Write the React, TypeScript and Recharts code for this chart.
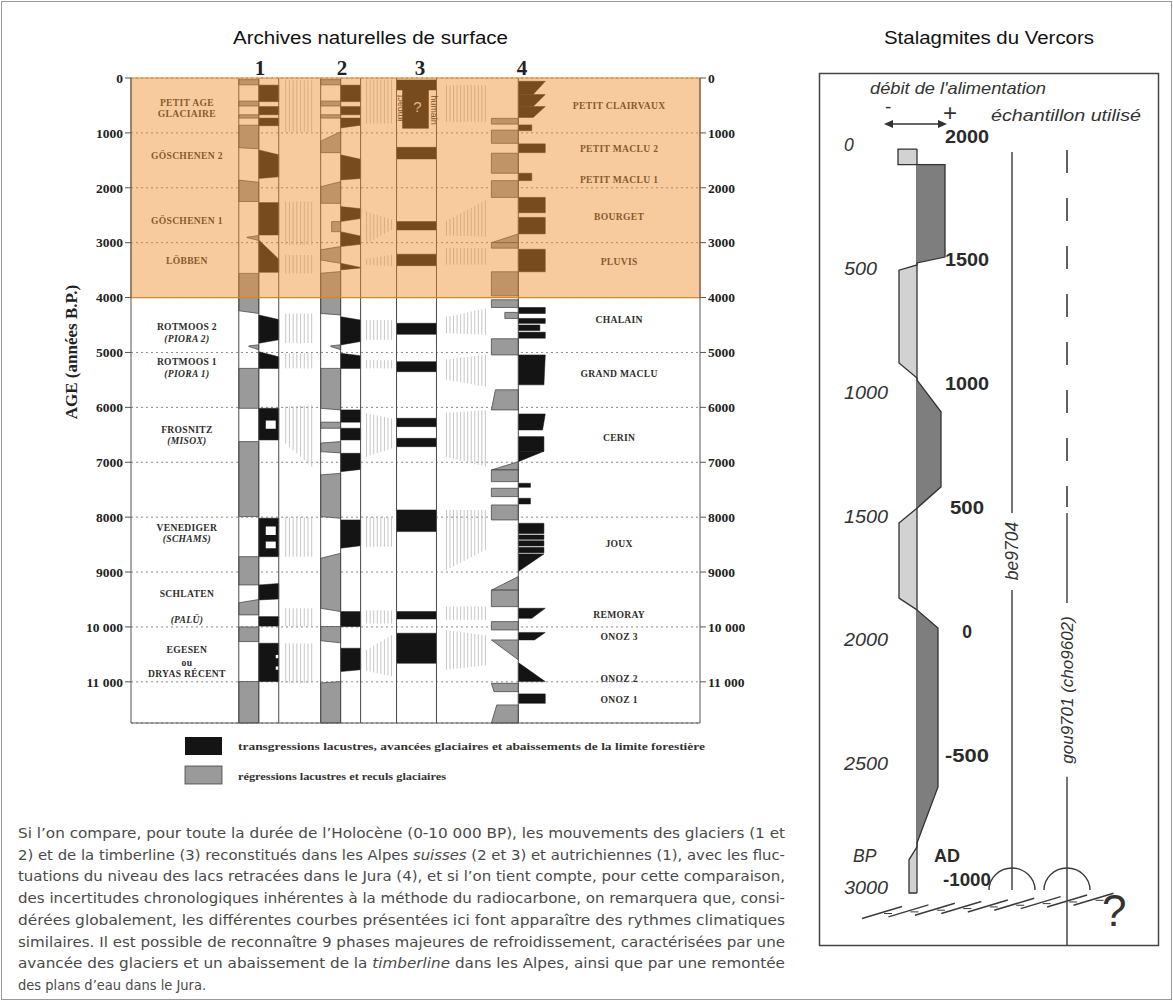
import React from 'react';
import { ComposedChart, XAxis, YAxis, CartesianGrid, ReferenceArea, ReferenceLine, ReferenceDot, Area } from 'recharts';

// ---------------- DATA : left panel (ages in years B.P.) ----------------
const AGE_MAX = 11750;
const AGE_TICKS = [0, 1000, 2000, 3000, 4000, 5000, 6000, 7000, 8000, 9000, 10000, 11000];
const HIGHLIGHT_END = 4000;

// column 1 & 2 blocks: [kind, topLeft, topRight, bottomLeft, bottomRight, f0?, f1?]
// kind: g = regression (grey, left half), b = transgression (black, right half), w = white notch
type CB = [string, number, number, number, number, number?, number?];
const col1Blocks: CB[] = [
  ['g', 30, 30, 125, 125], ['b', 130, 130, 430, 430], ['g', 420, 420, 510, 510],
  ['b', 520, 520, 670, 670], ['g', 670, 670, 730, 730], ['b', 730, 730, 870, 870],
  ['g', 860, 860, 1270, 1290], ['b', 1310, 1400, 1830, 1800], ['g', 1860, 1900, 2250, 2250],
  ['b', 2270, 2270, 2860, 2860], ['g', 2900, 2870, 2905, 2960, 0.4, 1], ['b', 2950, 3300, 3540, 3540],
  ['g', 3560, 3560, 4240, 4290], ['b', 4317, 4400, 4833, 4770], ['g', 4880, 4860, 4890, 4950, 0.5, 1],
  ['b', 4985, 5080, 5290, 5290], ['g', 5290, 5290, 6017, 6017], ['b', 6017, 6017, 6594, 6594],
  ['w', 6240, 6240, 6390, 6390, 0.35, 0.85], ['g', 6624, 6624, 7990, 7990], ['b', 8020, 8020, 8720, 8720],
  ['w', 8170, 8170, 8325, 8325, 0.35, 0.85], ['w', 8445, 8445, 8567, 8567, 0.35, 0.85],
  ['g', 8720, 8720, 9235, 9235], ['b', 9235, 9210, 9508, 9490], ['g', 9560, 9500, 9781, 9781],
  ['b', 9812, 9812, 9985, 9985], ['g', 10000, 10000, 10267, 10267], ['b', 10297, 10297, 10995, 10995],
  ['w', 10510, 10510, 10570, 10570, 0.85, 1], ['w', 10720, 10720, 10780, 10780, 0.85, 1],
  ['g', 10995, 10995, 11750, 11750],
];
const col2Blocks: CB[] = [
  ['g', 30, 30, 125, 125], ['b', 130, 130, 430, 430], ['g', 420, 420, 510, 510],
  ['b', 520, 520, 670, 670], ['g', 670, 670, 730, 730], ['b', 730, 730, 910, 860],
  ['g', 1150, 977, 1360, 1360], ['b', 1400, 1480, 1857, 1830], ['g', 1980, 1888, 2283, 2283],
  ['b', 2343, 2380, 2616, 2560], ['g', 2616, 2616, 2800, 2800, 0.55, 1], ['b', 2800, 2880, 3071, 3030],
  ['g', 3130, 3071, 3315, 3376], ['b', 3375, 3450, 3496, 3460], ['g', 3557, 3527, 4290, 4317],
  ['b', 4348, 4410, 4863, 4800], ['g', 4880, 4860, 4890, 4950, 0.5, 1], ['b', 5015, 5060, 5290, 5290],
  ['g', 5290, 5290, 6017, 6047], ['b', 6047, 6047, 6270, 6270], ['g', 6270, 6270, 6381, 6381],
  ['b', 6381, 6381, 6594, 6594], ['g', 6650, 6624, 6806, 6830], ['b', 6837, 6837, 7171, 7130],
  ['g', 7230, 7201, 7990, 8021], ['b', 8050, 8050, 8567, 8520], ['g', 8750, 8658, 9660, 9720],
  ['b', 9720, 9720, 9994, 9994], ['g', 9994, 9994, 10250, 10290], ['b', 10388, 10388, 10813, 10780],
  ['g', 11020, 10995, 11750, 11750],
];
// column 3 (timberline): [top, bottom, f0, f1]
const col3Blocks: number[][] = [
  [36, 218, 0, 1], [218, 917, 0.15, 0.8], [1263, 1475, 0, 1], [2616, 2768, 0, 1], [3210, 3418, 0, 1],
  [4469, 4670, 0, 1], [5167, 5350, 0, 1], [6199, 6351, 0, 1], [6564, 6716, 0, 1], [7869, 8263, 0, 1],
  [9720, 9855, 0, 1], [10115, 10662, 0, 1],
];
// column 4 (Jura lakes): [kind, top, bottom, relative width top, relative width bottom]
type C4 = [string, number, number, number, number];
const col4Blocks: C4[] = [
  ['b', 60, 300, 1, 0.55], ['b', 300, 520, 1, 0.55], ['b', 520, 720, 1, 0.55],
  ['g', 735, 840, 1, 1], ['b', 855, 960, 0.5, 0.5], ['g', 950, 1190, 1, 1], ['b', 1200, 1360, 1, 1],
  ['g', 1370, 1735, 1, 1], ['b', 1735, 1870, 0.5, 0.5], ['g', 1870, 2175, 1, 1], ['b', 2175, 2455, 1, 1],
  ['b', 2540, 2840, 1, 1], ['g', 2840, 3000, 0, 1], ['g', 3000, 3100, 1, 1], ['b', 3120, 3530, 1, 1],
  ['g', 3530, 3970, 1, 1], ['g', 4040, 4180, 1, 1], ['b', 4180, 4290, 1, 1], ['g', 4270, 4380, 0.5, 0.5],
  ['b', 4380, 4470, 1, 1], ['b', 4500, 4600, 0.8, 0.8], ['b', 4630, 4740, 1, 1], ['g', 4750, 5045, 1, 1],
  ['b', 5045, 5590, 1, 0.95], ['g', 5680, 6047, 0.85, 1], ['b', 6120, 6412, 1, 0.9],
  ['b', 6533, 6800, 0.95, 0.95], ['b', 6800, 6989, 0.95, 0], ['g', 6989, 7140, 0, 1], ['g', 7140, 7353, 1, 1],
  ['b', 7383, 7456, 0.45, 0.45], ['g', 7474, 7626, 1, 1], ['b', 7656, 7760, 0.45, 0.45], ['g', 7778, 8051, 1, 1],
  ['b', 8112, 8300, 0.95, 0.95], ['b', 8325, 8405, 0.95, 0.95], ['b', 8430, 8525, 0.95, 0.95],
  ['b', 8550, 8650, 0.95, 0.95], ['b', 8670, 8990, 0.95, 0], ['g', 9083, 9330, 0, 1], ['g', 9330, 9630, 1, 1],
  ['b', 9660, 9843, 1, 0.5], ['g', 9903, 10055, 1, 1], ['b', 10100, 10237, 1, 0.6], ['g', 10237, 10600, 1, 0],
  ['b', 10650, 10996, 0, 1], ['g', 11027, 11179, 1, 0.9], ['b', 11220, 11391, 1, 1], ['g', 11421, 11750, 0.8, 1],
];
// uncertainty hatching between columns: [zone, topLeft, topRight, bottomLeft, bottomRight]
const hatches: number[][] = [
  [1, 40, 40, 980, 980], [1, 2250, 2250, 3040, 3040], [1, 3225, 3225, 3560, 3560], [1, 4290, 4290, 4830, 4830],
  [1, 5015, 5015, 5290, 5290], [1, 5990, 5960, 6660, 7080], [1, 8000, 8000, 8720, 8720], [1, 9660, 9660, 9990, 9990],
  [1, 10300, 10300, 11020, 11020],
  [2, 30, 30, 830, 830], [2, 2430, 2580, 3010, 2770], [2, 3300, 3220, 3400, 3430], [2, 4410, 4410, 4770, 4770],
  [2, 5140, 5140, 5290, 5290], [2, 6110, 6200, 6900, 6750], [2, 8000, 8000, 8540, 8540], [2, 9700, 9700, 9940, 9940],
  [2, 10420, 10150, 10800, 10900],
  [3, 130, 130, 800, 800], [3, 2600, 2230, 2870, 2890], [3, 3100, 3100, 3400, 3400], [3, 4350, 4200, 4650, 4680],
  [3, 5130, 5040, 5500, 5620], [3, 6100, 6050, 6900, 7080], [3, 7870, 7870, 8960, 8600], [3, 9630, 9630, 9870, 9870],
  [3, 10060, 10150, 10780, 10700],
];
const glacierPhases: [string, number, boolean][] = [
  ['PETIT AGE', 443, false], ['GLACIAIRE', 643, false], ['GÖSCHENEN  2', 1415, false], ['GÖSCHENEN  1', 2587, false],
  ['LÖBBEN', 3327, false], ['ROTMOOS  2', 4530, false], ['(PIORA  2)', 4742, true], ['ROTMOOS  1', 5167, false],
  ['(PIORA  1)', 5379, true], ['FROSNITZ', 6412, false], ['(MISOX)', 6606, true], ['VENEDIGER', 8185, false],
  ['(SCHAMS)', 8385, true], ['SCHLATEN', 9399, false], ['(PALÜ)', 9861, true], ['EGESEN', 10419, false],
  ['ou', 10650, false], ['DRYAS RÉCENT', 10844, false],
];
const lakePhases: [string, number][] = [
  ['PETIT  CLAIRVAUX', 510], ['PETIT  MACLU  2', 1293], ['PETIT  MACLU  1', 1846], ['BOURGET', 2526],
  ['PLUVIS', 3351], ['CHALAIN', 4400], ['GRAND  MACLU', 5379], ['CERIN', 6551], ['JOUX', 8488],
  ['REMORAY', 9781], ['ONOZ 3', 10176], ['ONOZ 2', 10935], ['ONOZ 1', 11317],
];
const columnNames = ['1', '2', '3', '4'];

// ---------------- DATA : right panel (stalagmites) ----------------
const BP_TICKS = [0, 500, 1000, 1500, 2000, 2500, 3000];
const AD_TICKS = [2000, 1500, 1000, 500, 0, -500, -1000];
const rateBP = [16, 16, 79, 79, 79, 452, 476, 484, 505, 880, 941, 949, 1077, 1380, 1466, 1526, 1829, 1877, 1950, 2592, 2818, 2834, 2886, 3020, 3020];
const rateVal = [0, -19, -19, 0, 28, 28, 0, 0, -18, -18, 0, 0, 24, 24, 0, -18, -18, 0, 21, 21, 0, 0, -8, -8, 0];
const samples: { name: string; solid: number[][]; dashed: number[][]; base: number }[] = [
  { name: 'be9704', solid: [[28, 1486], [1797, 3008]], dashed: [], base: 3008 },
  { name: 'gou9701 (cho9602)', solid: [[1486, 1849], [2551, 3230]], dashed: [[20, 1461]], base: 3008 },
];

// ---------------- layout constants ----------------
const serif = "'Liberation Serif', 'Times New Roman', serif";
const sans = "'Liberation Sans', Arial, sans-serif";
const X_MAX = 570;
const COL1 = { l: 108, m: 128, r: 148 };
const COL2 = { l: 190, m: 210, r: 230 };
const COL3 = { l: 266, r: 306 };
const COL4 = { c: 388, w: 27 };
const ZONES: Record<number, [number, number]> = { 1: [155, 181], 2: [236, 261], 3: [316, 355] };
const COL_LINES = [COL1.l, COL1.m, COL1.r, COL2.l, COL2.m, COL2.r, COL3.l, COL3.r, COL4.c];
const SAMPLE_X = [95, 150];

type Pt = [number, number];

function polyArea(key: string, pts: Pt[], draw: (P: Pt[]) => React.ReactNode) {
  const xs = pts.map(p => p[0]);
  const ys = pts.map(p => p[1]);
  let x1 = Math.min(...xs), x2 = Math.max(...xs), y1 = Math.min(...ys), y2 = Math.max(...ys);
  if (x2 - x1 < 1e-6) { x1 -= 0.5; x2 += 0.5; }
  if (y2 - y1 < 1e-6) { y1 -= 1; y2 += 1; }
  const shape = (p: any) => {
    const { x, y, width, height } = p;
    if (![x, y, width, height].every((v: any) => Number.isFinite(v))) return <g />;
    const P = pts.map(([dx, dy]) => [x + ((dx - x1) / (x2 - x1)) * width, y + ((dy - y1) / (y2 - y1)) * height] as Pt);
    return <g>{draw(P)}</g>;
  };
  return <ReferenceArea key={key} x1={x1} x2={x2} y1={y1} y2={y2} ifOverflow="visible" shape={shape} />;
}

const fillDraw = (fill: string, stroke: string, sw: number) => (P: Pt[]) => (
  <polygon points={P.map(p => p.join(',')).join(' ')} fill={fill} stroke={stroke} strokeWidth={sw} strokeLinejoin="round" />
);

const hatchDraw = (P: Pt[]) => {
  const [tl, tr, br, bl] = P;
  const n = Math.max(2, Math.round((tr[0] - tl[0]) / 3.6));
  const out = [];
  for (let i = 0; i <= n; i++) {
    const t = i / n;
    const x = tl[0] + (tr[0] - tl[0]) * t;
    const ya = tl[1] + (tr[1] - tl[1]) * t;
    const yb = bl[1] + (br[1] - bl[1]) * t;
    out.push(<line key={i} x1={x} x2={x} y1={ya} y2={yb} stroke="#b8b8b8" strokeWidth={0.8} />);
  }
  return <>{out}</>;
};

const textDraw = (text: string, style: React.CSSProperties, rotate = 0, anchor = 'middle', len?: number) => (P: Pt[]) => {
  const cx = P.reduce((s, p) => s + p[0], 0) / P.length;
  const cy = P.reduce((s, p) => s + p[1], 0) / P.length;
  return (
    <text x={cx} y={cy} textAnchor={anchor as any} dominantBaseline="central" style={style}
      textLength={len} lengthAdjust={len ? 'spacingAndGlyphs' : undefined}
      transform={rotate ? `rotate(${rotate} ${cx} ${cy})` : undefined}>{text}</text>
  );
};

const labelAt = (key: string, x: number, y: number, text: string, style: React.CSSProperties, rotate = 0, anchor = 'middle', len?: number) =>
  polyArea(key, [[x - 0.5, y - 1], [x + 0.5, y - 1], [x + 0.5, y + 1], [x - 0.5, y + 1]], textDraw(text, style, rotate, anchor, len));

function halfColBlock(prefix: string, col: { l: number; m: number; r: number }, b: CB, i: number) {
  const [kind, tl, tr, bl, br, f0 = 0, f1 = 1] = b;
  const [a, c] = kind === 'g' ? [col.l, col.m] : [col.m, col.r];
  const xl = a + (c - a) * f0;
  const xr = a + (c - a) * f1;
  const pts: Pt[] = [[xl, tl], [xr, tr], [xr, br], [xl, bl]];
  const draw = kind === 'g' ? fillDraw('#9a9a9a', '#3c3c3c', 0.7) : kind === 'b' ? fillDraw('#141414', '#141414', 0.5) : fillDraw('#ffffff', 'none', 0);
  return polyArea(`${prefix}-${i}`, pts, draw);
}

const ageFmt = (v: number) => (v >= 10000 ? `${Math.floor(v / 1000)} 000` : String(v));
const phaseStyle: React.CSSProperties = { fontFamily: serif, fontWeight: 700, fontSize: 9.6, fill: '#2e2e2e', letterSpacing: 0.3 };

function LeftChart() {
  const data = AGE_TICKS.map(a => ({ age: a, x: 0 }));
  const els: React.ReactNode[] = [];
  hatches.forEach((h, i) => {
    const [z, tl, tr, bl, br] = h;
    const [a, c] = ZONES[z];
    els.push(polyArea(`h-${i}`, [[a, tl], [c, tr], [c, br], [a, bl]], hatchDraw));
  });
  col1Blocks.forEach((b, i) => els.push(halfColBlock('c1', COL1, b, i)));
  col2Blocks.forEach((b, i) => els.push(halfColBlock('c2', COL2, b, i)));
  col3Blocks.forEach((b, i) => {
    const [top, bot, f0, f1] = b;
    const xl = COL3.l + (COL3.r - COL3.l) * f0;
    const xr = COL3.l + (COL3.r - COL3.l) * f1;
    els.push(polyArea(`c3-${i}`, [[xl, top], [xr, top], [xr, bot], [xl, bot]], fillDraw('#141414', '#141414', 0.5)));
  });
  col4Blocks.forEach((b, i) => {
    const [kind, top, bot, wT, wB] = b;
    const s = kind === 'g' ? -1 : 1;
    const pts: Pt[] = [[COL4.c, top], [COL4.c + s * wT * COL4.w, top], [COL4.c + s * wB * COL4.w, bot], [COL4.c, bot]];
    els.push(polyArea(`c4-${i}`, pts, kind === 'g' ? fillDraw('#9a9a9a', '#3c3c3c', 0.7) : fillDraw('#141414', '#141414', 0.5)));
  });
  COL_LINES.forEach((x, i) => {
    els.push(polyArea(`cl-${i}`, [[x, 0], [x, AGE_MAX]], (P) => (
      <line x1={P[0][0]} x2={P[1][0]} y1={P[0][1]} y2={P[1][1]} stroke="#4a4a4a" strokeWidth={1} />
    )));
  });
  glacierPhases.forEach(([t, age, it], i) => {
    els.push(labelAt(`gp-${i}`, 56, age, t, { ...phaseStyle, fontStyle: it ? 'italic' : 'normal' }));
  });
  lakePhases.forEach(([t, age], i) => {
    els.push(labelAt(`lp-${i}`, 489, age, t, phaseStyle));
  });
  els.push(labelAt('impact', 269, 546, 'impact', { fontFamily: sans, fontSize: 9, fill: '#222' }, -90));
  els.push(labelAt('humain', 304, 583, 'humain', { fontFamily: sans, fontSize: 9, fill: '#222' }, 90));
  els.push(labelAt('q3', 287, 528, '?', { fontFamily: sans, fontSize: 15, fill: '#d6d6d6' }));
  els.push(polyArea('highlight', [[0, 0], [X_MAX, 0], [X_MAX, HIGHLIGHT_END], [0, HIGHLIGHT_END]], (P) => (
    <polygon points={P.map(p => p.join(',')).join(' ')} fill="#EF8D2B" fillOpacity={0.46} stroke="#DB8530" strokeWidth={1.2} />
  )));

  const tickStyle = { fontFamily: serif, fontWeight: 700, fontSize: 13.5, fill: '#222' };
  return (
    <ComposedChart width={780} height={740} data={data} margin={{ top: 78, right: 20, bottom: 15, left: 71 }}>
      <CartesianGrid vertical={false} stroke="#8a8a8a" strokeDasharray="2 3" />
      <XAxis type="number" dataKey="x" domain={[0, X_MAX]} allowDataOverflow tick={false} tickLine={false} axisLine={{ stroke: '#555' }} height={2} />
      <YAxis type="number" dataKey="age" domain={[0, AGE_MAX]} allowDataOverflow reversed ticks={AGE_TICKS} interval={0}
        width={60} tick={tickStyle} tickFormatter={ageFmt} tickSize={6} axisLine={{ stroke: '#555' }} tickLine={{ stroke: '#555' }} />
      <YAxis yAxisId="r" orientation="right" type="number" domain={[0, AGE_MAX]} allowDataOverflow reversed ticks={AGE_TICKS} interval={0}
        width={60} tick={tickStyle} tickFormatter={ageFmt} tickSize={6} axisLine={{ stroke: '#555' }} tickLine={{ stroke: '#555' }} />
      {els}
    </ComposedChart>
  );
}

function RightChart() {
  const rows = rateBP.map((bp, i) => ({ bp, dark: Math.max(rateVal[i], 0), light: Math.min(rateVal[i], 0) }));
  const els: React.ReactNode[] = [];
  BP_TICKS.forEach((bp, i) => els.push(labelAt(`bp-${i}`, -73, bp, String(bp),
    { fontFamily: sans, fontStyle: 'italic', fontSize: 17.5, fill: '#333' }, 0, 'start', bp === 0 ? undefined : bp < 1000 ? 33 : 44)));
  AD_TICKS.forEach((ad, i) => els.push(labelAt(`ad-${i}`, 50, 1950 - ad + 16, String(ad),
    { fontFamily: sans, fontWeight: 700, fontSize: 17.5, fill: '#2a2a2a' }, 0, 'middle',
    String(ad).length >= 5 ? 48 : String(ad).length === 4 ? 44 : String(ad).length === 3 ? 34 : undefined)));
  samples.forEach((s, si) => {
    const x = SAMPLE_X[si];
    s.solid.forEach((seg, j) => els.push(
      <ReferenceLine key={`s${si}-${j}`} segment={[{ x, y: seg[0] }, { x, y: seg[1] }]} stroke="#3a3a3a" strokeWidth={1.4} ifOverflow="visible" />));
    s.dashed.forEach((seg, j) => els.push(
      <ReferenceLine key={`d${si}-${j}`} segment={[{ x, y: seg[0] }, { x, y: seg[1] }]} stroke="#3a3a3a" strokeWidth={1.6} strokeDasharray="23 25" ifOverflow="visible" />));
    els.push(<ReferenceDot key={`arc${si}`} x={x} y={s.base} r={23} ifOverflow="visible" shape={(p: any) => (
      <path d={`M ${p.cx - 23} ${p.cy} A 23 22 0 0 1 ${p.cx + 23} ${p.cy}`} fill="none" stroke="#3a3a3a" strokeWidth={1.4} />
    )} />);
  });
  els.push(polyArea('ground', [[-55, 3115], [183, 3055], [183, 3055], [-55, 3115]], (P) => {
    const xs = P.map(p => p[0]);
    const ys = P.map(p => p[1]);
    const left = Math.min(...xs), right = Math.max(...xs);
    const yl = Math.max(...ys), yr = Math.min(...ys);
    const out = [];
    const n = 9;
    for (let i = 0; i < n; i++) {
      const t = i / n;
      const x0 = left + (right - left) * t;
      const y0 = yl + (yr - yl) * t;
      out.push(<line key={i} x1={x0} y1={y0 + 2} x2={x0 + 40} y2={y0 - 10} stroke="#3a3a3a" strokeWidth={1.5} />);
      out.push(<line key={`k${i}`} x1={x0 + 22} y1={y0 - 3} x2={x0 + 30} y2={y0 - 3} stroke="#3a3a3a" strokeWidth={1} />);
    }
    return <>{out}</>;
  }));
  return (
    <ComposedChart layout="vertical" width={294} height={870} data={rows} margin={{ top: 0, right: 0, bottom: 0, left: 0 }}>
      <XAxis type="number" domain={[-78, 216]} allowDataOverflow hide />
      <YAxis type="number" dataKey="bp" domain={[-283, 3230]} allowDataOverflow hide />
      <Area type="linear" dataKey="light" baseValue={0} stroke="#333" strokeWidth={1.3} fill="#d2d2d2" fillOpacity={1} dot={false} activeDot={false} isAnimationActive={false} />
      <Area type="linear" dataKey="dark" baseValue={0} stroke="#333" strokeWidth={1.3} fill="#7e7e7e" fillOpacity={1} dot={false} activeDot={false} isAnimationActive={false} />
      {els}
    </ComposedChart>
  );
}

const paragraph: [string, boolean][][] = [
  [['Si l’on compare, pour toute la durée de l’Holocène (0-10 000 BP), les mouvements des glaciers (1 et', false]],
  [['2) et de la timberline (3) reconstitués dans les Alpes ', false], ['suisses', true], [' (2 et 3) et autrichiennes (1), avec les fluc-', false]],
  [['tuations du niveau des lacs retracées dans le Jura (4), et si l’on tient compte, pour cette comparaison,', false]],
  [['des incertitudes chronologiques inhérentes à la méthode du radiocarbone, on remarquera que, consi-', false]],
  [['dérées globalement, les différentes courbes présentées ici font apparaître des rythmes climatiques', false]],
  [['similaires. Il est possible de reconnaître 9 phases majeures de refroidissement, caractérisées par une', false]],
  [['avancée des glaciers et un abaissement de la ', false], ['timberline', true], [' dans les Alpes, ainsi que par une remontée', false]],
  [['des plans d’eau dans le Jura.', false]],
];

export default function App() {
  const colNumX = [260, 342, 420, 522];
  return (
    <div style={{ position: 'absolute', left: 0, top: 0, width: 1173, height: 1001, background: '#fff', overflow: 'hidden' }}>
      <div style={{ position: 'absolute', left: 0, top: 0 }}><LeftChart /></div>
      <div style={{ position: 'absolute', left: 839, top: 75 }}><RightChart /></div>
      <svg width={1173} height={1001} style={{ position: 'absolute', left: 0, top: 0, pointerEvents: 'none' }}>
        <rect x={1.5} y={1.5} width={1170} height={998} fill="none" stroke="#9a9a9a" strokeWidth={1} />
        <text x={233} y={44} textLength={275} lengthAdjust="spacingAndGlyphs" style={{ fontFamily: sans, fontSize: 17.5, fill: '#111' }}>Archives naturelles de surface</text>
        <text x={884} y={44} textLength={210} lengthAdjust="spacingAndGlyphs" style={{ fontFamily: sans, fontSize: 17.5, fill: '#111' }}>Stalagmites du Vercors</text>
        {columnNames.map((n, i) => (
          <text key={n} x={colNumX[i]} y={75} textAnchor="middle" style={{ fontFamily: serif, fontWeight: 700, fontSize: 21, fill: '#222' }}>{n}</text>
        ))}
        <text x={0} y={0} textAnchor="middle" transform="translate(77 352) rotate(-90)" style={{ fontFamily: serif, fontWeight: 700, fontSize: 17, fill: '#222' }}>AGE (années B.P.)</text>
        {/* legend */}
        <rect x={185} y={737} width={37} height={18} fill="#141414" />
        <text x={238} y={750} textLength={467} lengthAdjust="spacingAndGlyphs" style={{ fontFamily: serif, fontWeight: 700, fontSize: 10.5, fill: '#333' }}>transgressions lacustres, avancées glaciaires et abaissements de la limite forestière</text>
        <rect x={185} y={766} width={37} height={18} fill="#9a9a9a" stroke="#444" strokeWidth={0.8} />
        <text x={238} y={780} textLength={208} lengthAdjust="spacingAndGlyphs" style={{ fontFamily: serif, fontWeight: 700, fontSize: 10.5, fill: '#333' }}>régressions lacustres et reculs glaciaires</text>
        {/* paragraph */}
        {paragraph.map((segs, i) => (
          <text key={i} x={18} y={838 + i * 21.7} textLength={i < 7 ? 767 : undefined} lengthAdjust="spacingAndGlyphs"
            style={{ fontFamily: "'Liberation Sans Narrow', 'DejaVu Sans Condensed', 'Liberation Sans', sans-serif", fontSize: 14.5, fill: '#4a4a4a' }}>
            {segs.map(([t, it], j) => <tspan key={j} fontStyle={it ? 'italic' : 'normal'}>{t}</tspan>)}
          </text>
        ))}
        {/* right panel frame and annotations */}
        <rect x={819.5} y={73.5} width={339} height={872} fill="none" stroke="#444" strokeWidth={1.5} />
        <text x={870} y={94} textLength={176} lengthAdjust="spacingAndGlyphs" style={{ fontFamily: sans, fontStyle: 'italic', fontSize: 16.5, fill: '#333' }}>débit de l'alimentation</text>
        <text x={885} y={113} style={{ fontFamily: sans, fontSize: 19, fill: '#333' }}>-</text>
        <text x={943} y={121} style={{ fontFamily: sans, fontSize: 24, fill: '#333' }}>+</text>
        <line x1={888} y1={124} x2={943} y2={124} stroke="#333" strokeWidth={1.5} />
        <polygon points="884,124 893,120 893,128" fill="#333" />
        <polygon points="947,124 938,120 938,128" fill="#333" />
        <text x={991} y={121} textLength={150} lengthAdjust="spacingAndGlyphs" style={{ fontFamily: sans, fontStyle: 'italic', fontSize: 16.5, fill: '#333' }}>échantillon utilisé</text>
        <text x={853} y={862} style={{ fontFamily: sans, fontStyle: 'italic', fontSize: 17.5, fill: '#333' }}>BP</text>
        <text x={934} y={862} style={{ fontFamily: sans, fontWeight: 700, fontSize: 18, fill: '#2a2a2a' }}>AD</text>
        <rect x={1003} y={516} width={18} height={70} fill="#fff" />
        <text x={0} y={0} textAnchor="middle" dominantBaseline="central" transform="translate(1012 551) rotate(-90)" style={{ fontFamily: sans, fontStyle: 'italic', fontSize: 17.5, fill: '#333' }}>be9704</text>
        <text x={0} y={0} textAnchor="middle" dominantBaseline="central" transform="translate(1067 690) rotate(-90)" style={{ fontFamily: sans, fontStyle: 'italic', fontSize: 17, fill: '#333' }}>gou9701 (cho9602)</text>
        <text x={1102} y={926} style={{ fontFamily: sans, fontSize: 44, fill: '#333' }}>?</text>
      </svg>
    </div>
  );
}
